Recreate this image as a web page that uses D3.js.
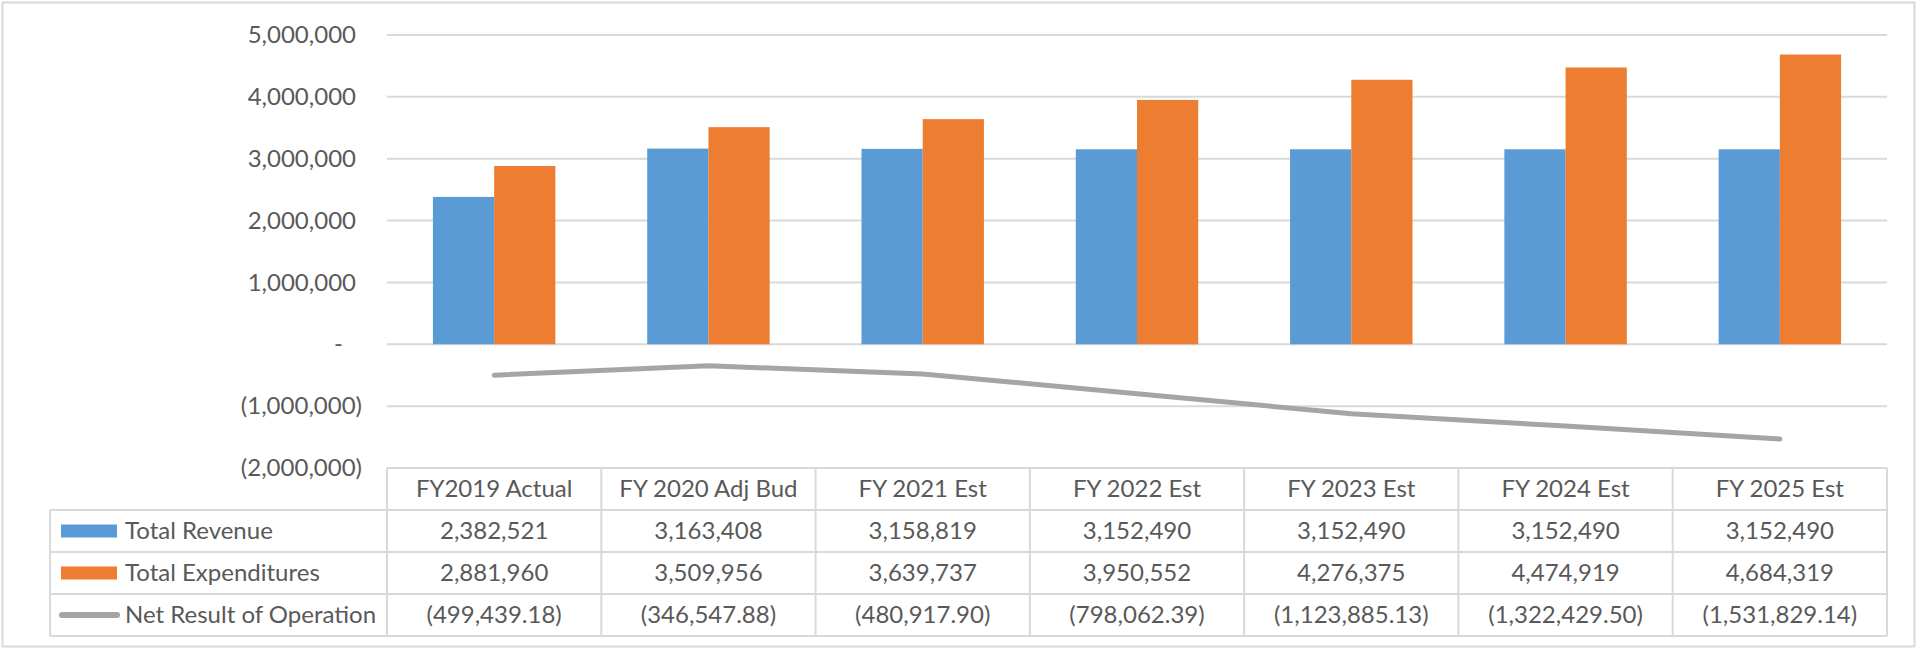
<!DOCTYPE html>
<html>
<head>
<meta charset="utf-8">
<script src="https://cdn.jsdelivr.net/npm/d3@7"></script>
<style>
  body { margin: 0; background: #fff; }
  text { font-family: Lato, "Open Sans", sans-serif; fill: #595959; }
</style>
</head>
<body>
<div id="chart"></div>
<script>
// data
var categories = ["FY2019 Actual", "FY 2020 Adj Bud", "FY 2021 Est", "FY 2022 Est", "FY 2023 Est", "FY 2024 Est", "FY 2025 Est"];
var revenue = [2382521, 3163408, 3158819, 3152490, 3152490, 3152490, 3152490];
var expenditures = [2881960, 3509956, 3639737, 3950552, 4276375, 4474919, 4684319];
var netResult = [-499439.18, -346547.88, -480917.90, -798062.39, -1123885.13, -1322429.50, -1531829.14];
var yTicks = [-2000000, -1000000, 0, 1000000, 2000000, 3000000, 4000000, 5000000];
var seriesNames = ["Total Revenue", "Total Expenditures", "Net Result of Operation"];

var colors = { rev: "#5b9bd5", exp: "#ed7d31", net: "#a5a5a5", grid: "#d9d9d9" };

var W = 1917, H = 649;
var plotLeft = 387, plotRight = 1887, plotTop = 35, plotBottom = 468;
var legendLeft = 50, rowH = 42;
var fontSize = "24px";

var svg = d3.select("#chart")
  .append("svg")
    .attr("width", W)
    .attr("height", H);

// outer chart border
svg.append("rect")
  .attr("x", 2.5).attr("y", 2.5)
  .attr("width", W - 5).attr("height", H - 5)
  .attr("fill", "none")
  .attr("stroke", colors.grid)
  .attr("stroke-width", 2);

// scales
var x0 = d3.scaleBand()
  .domain(categories)
  .range([plotLeft, plotRight])
  .paddingInner(0.4286)
  .paddingOuter(0.2143);

var x1 = d3.scaleBand()
  .domain(["rev", "exp"])
  .range([0, x0.bandwidth()]);

var y = d3.scaleLinear()
  .domain([-2000000, 5000000])
  .range([plotBottom, plotTop]);

// gridlines
svg.append("g")
  .selectAll("line")
  .data(yTicks)
  .enter().append("line")
    .attr("x1", plotLeft).attr("x2", plotRight)
    .attr("y1", function(d) { return y(d); })
    .attr("y2", function(d) { return y(d); })
    .attr("stroke", colors.grid)
    .attr("stroke-width", 2);

// y axis labels, accounting style
var fmt = d3.format(",.0f");
var yAxis = svg.append("g")
  .attr("transform", "translate(" + plotLeft + ",0)")
  .call(d3.axisLeft(y).tickValues(yTicks).tickSize(0).tickFormat(function(d) {
    if (d === 0) return "-";
    return d < 0 ? "(" + fmt(-d) + ")" : fmt(d);
  }));
yAxis.select(".domain").remove();
yAxis.selectAll("text")
  .style("font-size", fontSize)
  .style("font-family", "Lato, sans-serif")
  .attr("fill", "#595959")
  .attr("x", function(d) { return d === 0 ? -44 : (d < 0 ? -25 : -31); });

// bars
var groups = svg.append("g")
  .selectAll("g")
  .data(categories)
  .enter().append("g")
    .attr("transform", function(d) { return "translate(" + x0(d) + ",0)"; });

groups.selectAll("rect")
  .data(function(d, i) { return [{ k: "rev", v: revenue[i] }, { k: "exp", v: expenditures[i] }]; })
  .enter().append("rect")
    .attr("x", function(d) { return x1(d.k); })
    .attr("y", function(d) { return y(d.v); })
    .attr("width", x1.bandwidth())
    .attr("height", function(d) { return y(0) - y(d.v); })
    .attr("fill", function(d) { return colors[d.k]; });

// net result line
svg.append("path")
  .datum(netResult)
  .attr("fill", "none")
  .attr("stroke", colors.net)
  .attr("stroke-width", 5)
  .attr("stroke-linecap", "round")
  .attr("stroke-linejoin", "round")
  .attr("d", d3.line()
    .x(function(d, i) { return x0(categories[i]) + x0.bandwidth() / 2; })
    .y(function(d) { return y(d); })
  );

// data table
var step = x0.step();
var colLeft = function(c) { return x0(c) + x0.bandwidth() / 2 - step / 2; };
var tableTop = plotBottom;
var table = svg.append("g");

// horizontal borders
table.append("line")
  .attr("x1", plotLeft).attr("x2", plotRight)
  .attr("y1", tableTop).attr("y2", tableTop);
[1, 2, 3, 4].forEach(function(r) {
  table.append("line")
    .attr("x1", legendLeft).attr("x2", plotRight)
    .attr("y1", tableTop + r * rowH).attr("y2", tableTop + r * rowH);
});
// vertical borders
table.append("line")
  .attr("x1", legendLeft).attr("x2", legendLeft)
  .attr("y1", tableTop + rowH).attr("y2", tableTop + 4 * rowH);
categories.forEach(function(c) {
  table.append("line")
    .attr("x1", colLeft(c)).attr("x2", colLeft(c))
    .attr("y1", tableTop).attr("y2", tableTop + 4 * rowH);
});
table.append("line")
  .attr("x1", plotRight).attr("x2", plotRight)
  .attr("y1", tableTop).attr("y2", tableTop + 4 * rowH);
table.selectAll("line")
  .attr("stroke", colors.grid)
  .attr("stroke-width", 2);

// header row
table.selectAll("text.head")
  .data(categories)
  .enter().append("text")
    .attr("class", "head")
    .attr("x", function(d) { return x0(d) + x0.bandwidth() / 2; })
    .attr("y", tableTop + rowH / 2)
    .attr("dy", "0.35em")
    .attr("text-anchor", "middle")
    .style("font-size", fontSize)
    .text(function(d) { return d; });

var fmt2 = d3.format(",.2f");
var rows = [
  { vals: revenue, f: function(v) { return fmt(v); } },
  { vals: expenditures, f: function(v) { return fmt(v); } },
  { vals: netResult, f: function(v) { return v < 0 ? "(" + fmt2(-v) + ")" : fmt2(v); } }
];
rows.forEach(function(row, r) {
  var cy = tableTop + (r + 1.5) * rowH;
  table.selectAll("text.r" + r)
    .data(row.vals)
    .enter().append("text")
      .attr("class", "r" + r)
      .attr("x", function(d, i) { return x0(categories[i]) + x0.bandwidth() / 2; })
      .attr("y", cy)
      .attr("dy", "0.35em")
      .attr("text-anchor", "middle")
      .style("font-size", fontSize)
      .text(row.f);

  // legend keys
  if (r < 2) {
    table.append("rect")
      .attr("x", 61).attr("y", cy - 6.5)
      .attr("width", 56).attr("height", 13)
      .attr("fill", r === 0 ? colors.rev : colors.exp);
  } else {
    table.append("line")
      .attr("x1", 62).attr("x2", 117)
      .attr("y1", cy).attr("y2", cy)
      .attr("stroke", colors.net)
      .attr("stroke-width", 6)
      .attr("stroke-linecap", "round");
  }
  table.append("text")
    .attr("x", 125)
    .attr("y", cy)
    .attr("dy", "0.35em")
    .style("font-size", fontSize)
    .text(seriesNames[r]);
});
</script>
</body>
</html>
